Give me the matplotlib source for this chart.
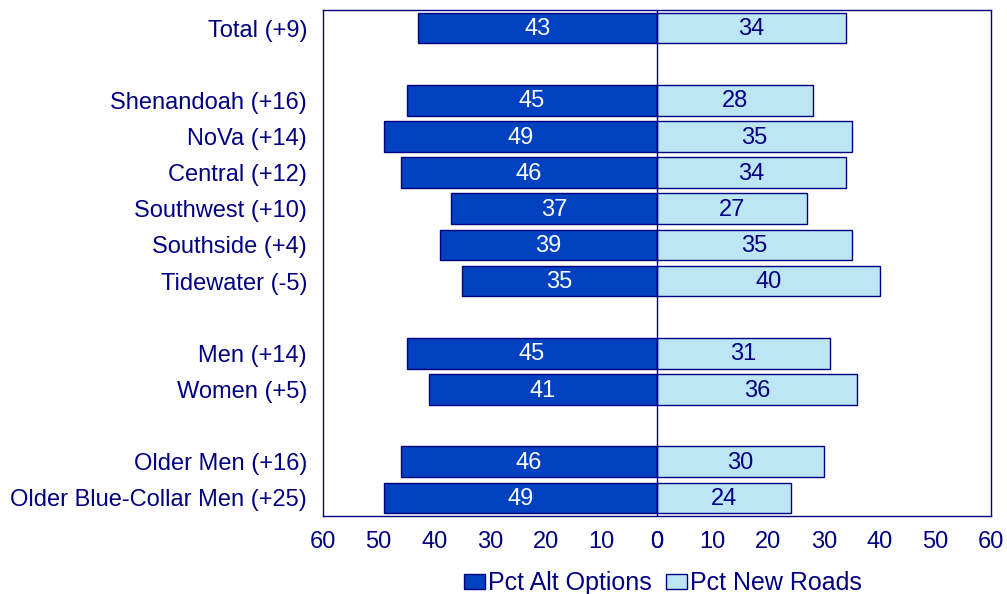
import matplotlib
matplotlib.use("Agg")
import matplotlib.pyplot as plt
from matplotlib.patches import Patch

# Survey groups, top to bottom (None marks a spacer row)
categories = ["Total (+9)", None,
              "Shenandoah (+16)", "NoVa (+14)", "Central (+12)", "Southwest (+10)",
              "Southside (+4)", "Tidewater (-5)", None,
              "Men (+14)", "Women (+5)", None,
              "Older Men (+16)", "Older Blue-Collar Men (+25)"]
alt_options = [43, None, 45, 49, 46, 37, 39, 35, None, 45, 41, None, 46, 49]
new_roads = [34, None, 28, 35, 34, 27, 35, 40, None, 31, 36, None, 30, 24]
tick_values = [60, 50, 40, 30, 20, 10, 0]

NAVY = "#000080"
DARK = "#0041BF"
LIGHT = "#BDE6F5"

plt.rcParams["font.family"] = ["Liberation Sans", "DejaVu Sans"]

fig = plt.figure(figsize=(10.07, 5.94), dpi=100)
ax = fig.add_axes([0.3208, 0.1313, 0.6633, 0.8519])

rows = [i for i, c in enumerate(categories) if c is not None]
labels = [categories[i] for i in rows]
alt = [alt_options[i] for i in rows]
new = [new_roads[i] for i in rows]

h = 0.85
ax.barh(rows, [-v for v in alt], height=h, color=DARK, edgecolor=NAVY, linewidth=1)
ax.barh(rows, new, height=h, color=LIGHT, edgecolor=NAVY, linewidth=1)

fs = 17
bfs = 17
for y, a, n in zip(rows, alt, new):
    ax.text(-a / 2, y + 0.03, str(a), ha="center", va="center", color="white", fontsize=bfs)
    ax.text(n / 2, y + 0.03, str(n), ha="center", va="center", color=NAVY, fontsize=bfs)

ax.axvline(0, color=NAVY, linewidth=1)

ax.set_xlim(-60, 60)
ax.set_ylim(len(categories) - 0.5, -0.5)
ax.set_yticks(rows)
ax.set_yticklabels(labels, fontsize=fs, color=NAVY)

xt = [-v for v in tick_values] + tick_values[::-1]
ax.set_xticks(xt)
ax.set_xticklabels([str(abs(v)) for v in xt], fontsize=fs, color=NAVY)
ax.tick_params(length=0)
ax.tick_params(axis="x", pad=10.5)
ax.tick_params(axis="y", pad=11.5)

for s in ax.spines.values():
    s.set_color(NAVY)
    s.set_linewidth(1)

handles = [Patch(facecolor=DARK, edgecolor=NAVY, label="Pct Alt Options"),
           Patch(facecolor=LIGHT, edgecolor=NAVY, label="Pct New Roads")]
leg = fig.legend(handles=handles, loc="center", bbox_to_anchor=(663 / 1007, 1 - 583 / 594),
                 ncol=2, frameon=False, fontsize=18, handlelength=0.84, handleheight=0.56,
                 handletextpad=0.12, columnspacing=0.6, borderpad=0)
for t in leg.get_texts():
    t.set_color(NAVY)

fig.savefig("out.png", dpi=100)
